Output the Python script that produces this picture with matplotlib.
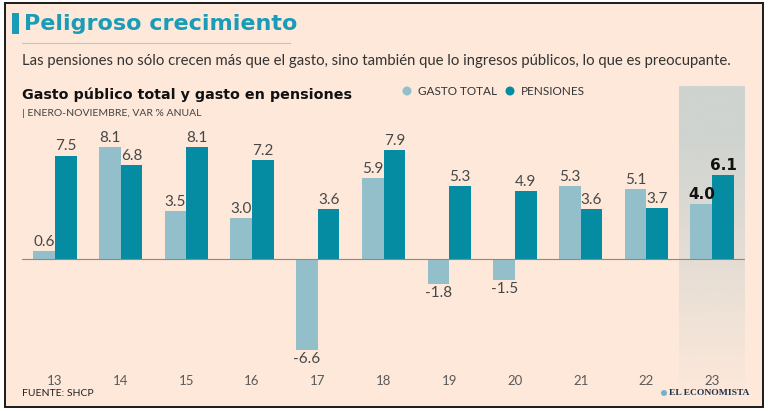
import numpy as np
import matplotlib
matplotlib.use("Agg")
import matplotlib.pyplot as plt
from matplotlib.patches import Rectangle, Ellipse

# Data
years = ['13', '14', '15', '16', '17', '18', '19', '20', '21', '22', '23']
gasto_total = [0.6, 8.1, 3.5, 3.0, -6.6, 5.9, -1.8, -1.5, 5.3, 5.1, 4.0]
pensiones = [7.5, 6.8, 8.1, 7.2, 3.6, 7.9, 5.3, 4.9, 3.6, 3.7, 6.1]

BG = '#fde8da'
C_GASTO = '#93bfca'
C_PENS = '#058ca3'
TEAL = '#1a9cb8'

plt.rcParams['font.family'] = ['Lato', 'DejaVu Sans']

W, H = 768, 411
fig = plt.figure(figsize=(W / 100, H / 100), dpi=100)
fig.patch.set_facecolor('white')


def px(x, y):
    # pixel coords (top-left origin) -> figure fraction
    return x / W, 1 - y / H


def dot(x, y, r, color):
    fig.patches.append(Ellipse(px(x, y), 2 * r / W, 2 * r / H, transform=fig.transFigure,
                               facecolor=color, edgecolor='none', zorder=1))


# peach card with dark border
fig.patches.append(Rectangle(px(5, 407), 758 / W, 404 / H, transform=fig.transFigure,
                             facecolor=BG, edgecolor='#1a1a1a', linewidth=1.4, zorder=-5))

# title block
fig.patches.append(Rectangle(px(12, 34), 7 / W, 21 / H, transform=fig.transFigure,
                             facecolor=TEAL, edgecolor='none', zorder=1))
fig.text(*px(24, 24), 'Peligroso crecimiento', fontsize=16, fontweight='bold',
         family='DejaVu Sans', color=TEAL, va='center', ha='left')
fig.lines.append(plt.Line2D([22 / W, 290 / W], [1 - 43 / H] * 2, transform=fig.transFigure,
                            color='#b4c8cc', linewidth=0.8))
fig.text(*px(22, 61), 'Las pensiones no sólo crecen más que el gasto, sino también que lo '
         'ingresos públicos, lo que es preocupante.', fontsize=10.7, color='#333333',
         va='center', ha='left')
fig.text(*px(22, 95), 'Gasto público total y gasto en pensiones', fontsize=10.3,
         fontweight='bold', family='DejaVu Sans', color='#111111', va='center', ha='left')
fig.text(*px(22, 113), '| ENERO-NOVIEMBRE, VAR % ANUAL', fontsize=7.5, color='#444444',
         va='center', ha='left')

# legend
dot(407, 91, 4.5, C_GASTO)
fig.text(*px(418, 91), 'GASTO TOTAL', fontsize=8.5, color='#333333', va='center')
dot(510, 91, 4.5, C_PENS)
fig.text(*px(521, 91), 'PENSIONES', fontsize=8.5, color='#333333', va='center')

# chart axes: zero at y=259 px, 13.8 px per unit
top_px, bot_px = 86, 395
ppu = 13.8
ymax = (259 - top_px) / ppu
ymin = -(bot_px - 259) / ppu
ax = fig.add_axes([22 / W, 1 - bot_px / H, 723 / W, (bot_px - top_px) / H])
ax.set_zorder(2)
ax.set_facecolor('none')
ax.set_xlim(-0.5, 10.5)
ax.set_ylim(ymin, ymax)
ax.axis('off')

# highlight band for last year (gradient)
grad = np.linspace(1, 0, 200).reshape(-1, 1)
rgba = np.zeros((200, 1, 4))
rgba[..., 0:3] = matplotlib.colors.to_rgb('#cfd4d0')
rgba[..., 3] = np.clip(grad * 1.2, 0, 1)
ax.imshow(rgba, extent=[9.5, 10.5, ymin, ymax], aspect='auto', zorder=0,
          interpolation='bilinear')

x = np.arange(len(years))
bw = 0.33
ax.bar(x - bw / 2, gasto_total, bw, color=C_GASTO, zorder=2)
ax.bar(x + bw / 2, pensiones, bw, color=C_PENS, zorder=2)
ax.axhline(0, color='#8a8a8a', linewidth=0.8, zorder=3)

last = len(years) - 1
for i in range(len(years)):
    for xx, v in ((x[i] - bw / 2, gasto_total[i]), (x[i] + bw / 2, pensiones[i])):
        bold = i == last
        off = 0.15 if v >= 0 else -0.15
        ax.text(xx, v + off, f'{v:.1f}', ha='center', va='bottom' if v >= 0 else 'top',
                fontsize=11, fontweight='bold' if bold else 'normal',
                family='DejaVu Sans' if bold else 'Lato',
                color='#111111' if bold else '#474747', zorder=4)
    ax.text(x[i], -(381 - 259) / ppu, years[i], ha='center', va='center', fontsize=9.5,
            color='#5a5a5a', zorder=4)

fig.text(*px(22, 393), 'FUENTE: SHCP', fontsize=7.5, color='#222222', va='center')
dot(664, 393, 3, '#6fb3cf')
fig.text(*px(669, 393), 'EL ECONOMISTA', fontsize=6.8, fontweight='bold',
         family='Liberation Serif', color='#1f2f4a', va='center')

fig.savefig('out.png', dpi=100, facecolor=fig.get_facecolor())
